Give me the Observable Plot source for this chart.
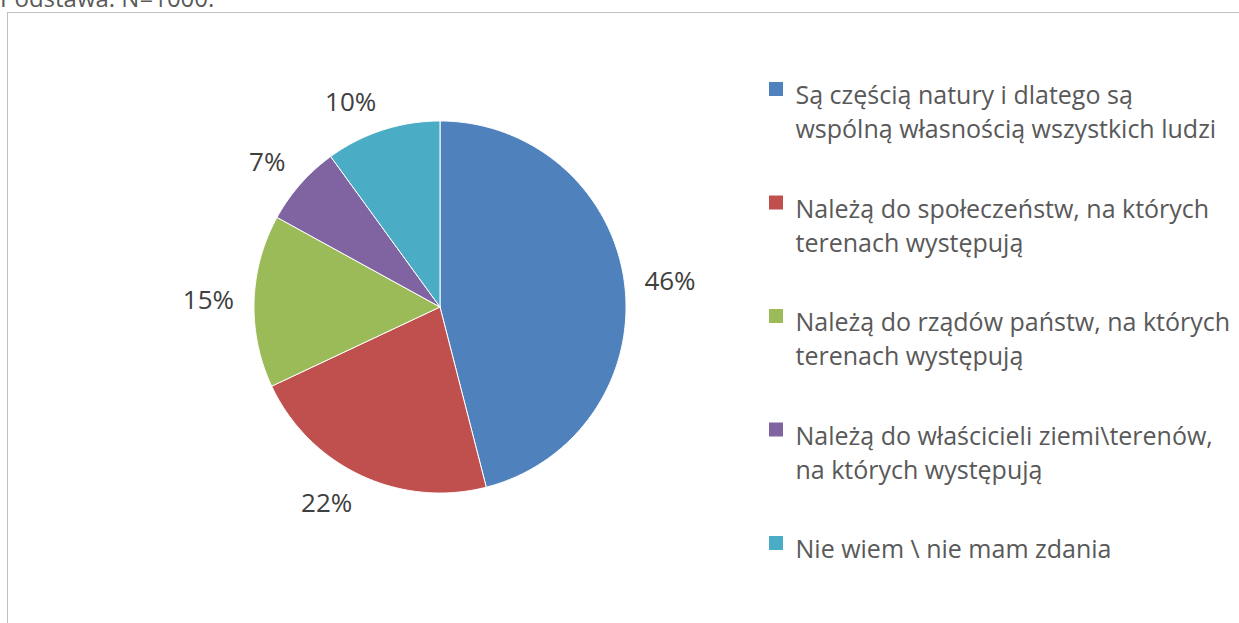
<!DOCTYPE html>
<html>
<head>
<meta charset="utf-8">
<script src="https://cdn.jsdelivr.net/npm/d3@7"></script>
<script src="https://cdn.jsdelivr.net/npm/@observablehq/plot@0.6"></script>
<style>
  html, body { margin: 0; padding: 0; background: #fff; overflow: hidden; }
  #wrap { position: relative; width: 1239px; height: 623px; overflow: hidden; font-family: "Open Sans", sans-serif; }
  #caption { position: absolute; left: 0; top: -19px; font-size: 24px; color: #595959; white-space: nowrap; line-height: 33px; }
  #frame { position: absolute; left: 7px; top: 12px; width: 1300px; height: 700px; border: 1px solid #bfbfbf; box-sizing: border-box; }
  #chart { position: absolute; left: 0; top: 0; }
</style>
</head>
<body>
<div id="wrap">
  <div id="caption">Podstawa: N=1000.</div>
  <div id="frame"></div>
  <div id="chart"></div>
</div>
<script>
// ---- data ----
const categories = [
  "Są częścią natury i dlatego są\nwspólną własnością wszystkich ludzi",
  "Należą do społeczeństw, na których\nterenach występują",
  "Należą do rządów państw, na których\nterenach występują",
  "Należą do właścicieli ziemi\\terenów,\nna których występują",
  "Nie wiem \\ nie mam zdania"
];
const values = [46, 22, 15, 7, 10];
const valueLabels = ["46%", "22%", "15%", "7%", "10%"];
const colors = ["#4F81BD", "#C0504D", "#9BBB59", "#8064A2", "#4BACC6"];

// ---- layout ----
const W = 1239, H = 623;
const cx = 439.5, cy = 306.5, R = 186, labelR = 206;
const legendX = 769, legendTop = 82, legendStep = 113.5, sq = 14, legendTextX = 795;

const total = d3.sum(values);
let acc = 0;
const slices = values.map((v, i) => {
  const a0 = acc / total * 2 * Math.PI;
  acc += v;
  const a1 = acc / total * 2 * Math.PI;
  return {key: categories[i], a0, a1, mid: (a0 + a1) / 2, label: valueLabels[i]};
});

// polygon points for each slice (angles clockwise from 12 o'clock)
const polyPts = [];
for (const s of slices) {
  polyPts.push({key: s.key, x: cx, y: cy});
  const n = Math.max(2, Math.ceil((s.a1 - s.a0) / (Math.PI / 360)));
  for (let k = 0; k <= n; k++) {
    const a = s.a0 + (s.a1 - s.a0) * k / n;
    polyPts.push({key: s.key, x: cx + R * Math.sin(a), y: cy - R * Math.cos(a)});
  }
  polyPts.push({key: s.key, x: cx, y: cy});
}

// label anchors
const labels = slices.map(s => {
  const sn = Math.sin(s.mid), cs = Math.cos(s.mid);
  return {
    label: s.label,
    x: cx + labelR * sn,
    y: cy - labelR * cs,
    ta: sn > 0.1 ? "start" : sn < -0.1 ? "end" : "middle",
    la: cs > 0.3 ? "bottom" : cs < -0.3 ? "top" : "middle"
  };
});
const labelMarks = d3.groups(labels, d => d.ta + "|" + d.la).map(([k, arr]) => {
  const [ta, la] = k.split("|");
  return Plot.text(arr, {x: "x", y: "y", text: "label", textAnchor: ta, lineAnchor: la,
    fontSize: 26, fill: "#404040", fontFamily: "Open Sans"});
});

const legend = categories.map((c, i) => ({
  key: c,
  x1: legendX, x2: legendX + sq,
  y1: legendTop + i * legendStep, y2: legendTop + i * legendStep + sq,
  tx: legendTextX, ty: legendTop + i * legendStep - 3
}));

const chart = Plot.plot({
  width: W, height: H, margin: 0,
  x: {domain: [0, W], range: [0, W], axis: null},
  y: {domain: [0, H], range: [0, H], axis: null},
  color: {domain: categories, range: colors},
  style: {background: "transparent", fontFamily: "Open Sans", overflow: "visible"},
  marks: [
    Plot.line(polyPts, {x: "x", y: "y", z: "key", fill: "key", stroke: "#fff", strokeWidth: 1, curve: "linear"}),
    ...labelMarks,
    Plot.rect(legend, {x1: "x1", x2: "x2", y1: "y1", y2: "y2", fill: "key"}),
    Plot.text(legend, {x: "tx", y: "ty", text: "key", textAnchor: "start", lineAnchor: "top",
      lineHeight: 1.38, fontSize: 25, fill: "#595959", fontFamily: "Open Sans"})
  ]
});
document.getElementById("chart").appendChild(chart);
</script>
</body>
</html>
